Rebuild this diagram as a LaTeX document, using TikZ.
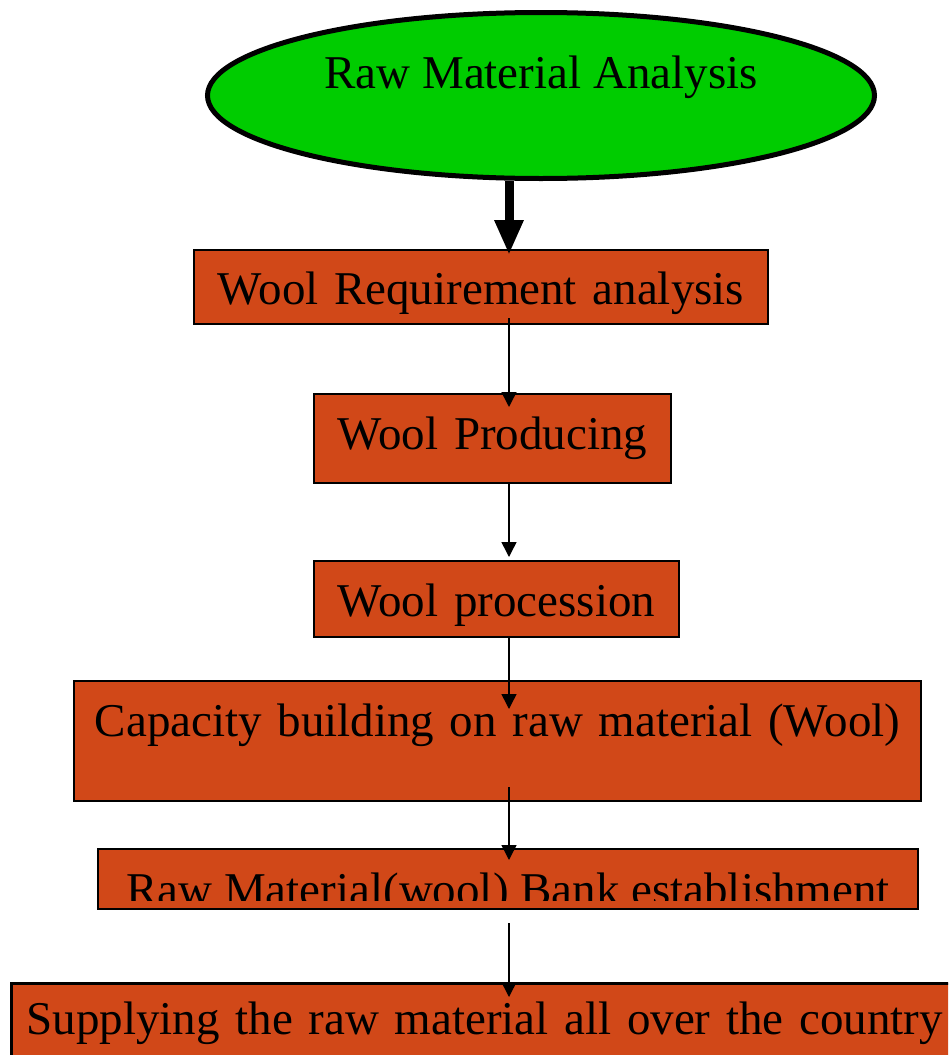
\documentclass[tikz,border=0pt]{standalone}
\usepackage{fontspec}
\setmainfont{Liberation Serif}
\usetikzlibrary{arrows.meta,shapes.geometric}
\definecolor{boxorange}{HTML}{D14818}
\definecolor{startgreen}{HTML}{00CC00}

\begin{document}
\begin{tikzpicture}[x=1pt,y=-1pt,
  labelfont/.style={font=\fontsize{47}{56}\selectfont},
  stepbox/.style={draw=black, line width=2pt, fill=boxorange, rectangle,
    inner sep=0pt, anchor=north west, align=center, labelfont},
  flow/.style={line width=1.5pt, -{Triangle[width=15pt,length=15pt]}},
  bigflow/.style={line width=9pt, -{Triangle[width=27pt,length=35pt]}}]
\clip (0,0) rectangle (948,1055);

% start node
\node[ellipse, draw=black, line width=5pt, fill=startgreen,
      minimum width=667pt, minimum height=166pt, inner sep=0pt] (e) at (541,95.5) {};
\node[labelfont, anchor=base, inner sep=0pt] (et) at ([yshift=7.5pt]e.center) {Raw Material Analysis};

% process steps
\node[stepbox, text width=574pt, text height=54pt, text depth=20pt] (b1) at (193,249)
  {Wool Requirement analysis};
\node[stepbox, text width=357pt, text height=55pt, text depth=34pt] (b2) at (313,393)
  {Wool Producing};
\node[stepbox, text width=365pt, text height=55pt, text depth=21pt] (b3) at (313,560)
  {Wool procession};
\node[stepbox, text width=847pt, text height=55pt, text depth=65pt] (b4) at (73,680)
  {Capacity building on raw material (Wool)};
\node[stepbox, text width=820pt, text height=55pt, text depth=5pt] (b5) at (97,848) {};
\begin{scope}
  \clip ([xshift=1pt,yshift=-1pt]b5.north west) rectangle ([xshift=-1pt,yshift=10pt]b5.south east);
  \node[labelfont, anchor=base, inner sep=0pt] (b5t) at ([yshift=5pt]b5.south)
    {Raw Material(wool) Bank establishment};
\end{scope}
\node[stepbox, line width=2.5pt, text width=947pt, text height=51pt, text depth=60pt] (b6) at (10,982)
  {Supplying the raw material all over the country};

% connectors along a common vertical axis
\coordinate (ax) at (509,0);
\draw[bigflow, shorten >=-6pt] (e.south -| ax) -- (b1.north -| ax);
\draw[flow, shorten <=-7pt, shorten >=-14pt] (b1.south -| ax) -- (b2.north -| ax);
\draw[flow, shorten >=3pt] (b2.south -| ax) -- (b3.north -| ax);
\draw[flow, shorten <=-1pt, shorten >=-29pt] (b3.south -| ax) -- (b4.north -| ax);
\draw[flow, shorten <=-15pt, shorten >=-12pt] (b4.south -| ax) -- (b5.north -| ax);
\draw[flow, shorten <=13pt, shorten >=-15pt] (b5.south -| ax) -- (b6.north -| ax);
\end{tikzpicture}
\end{document}
